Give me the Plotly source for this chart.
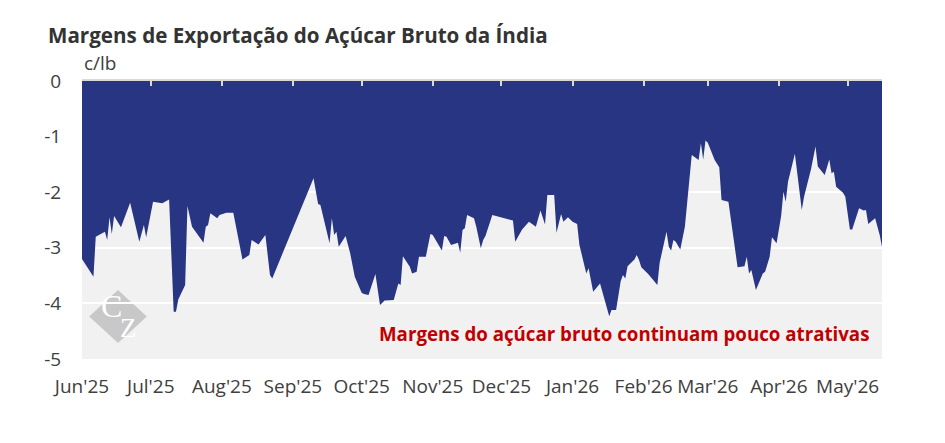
import plotly.graph_objects as go

# --- Data (c/lb) ---
dates = [
    "2025-06-01", "2025-06-06", "2025-06-07", "2025-06-11", "2025-06-12", "2025-06-13",
    "2025-06-14", "2025-06-15", "2025-06-18", "2025-06-22", "2025-06-26", "2025-06-28",
    "2025-06-29", "2025-07-02", "2025-07-06", "2025-07-09", "2025-07-11", "2025-07-12",
    "2025-07-13", "2025-07-16", "2025-07-17", "2025-07-19", "2025-07-24", "2025-07-25",
    "2025-07-26", "2025-07-27", "2025-07-30", "2025-07-31", "2025-08-03", "2025-08-06",
    "2025-08-10", "2025-08-13", "2025-08-14", "2025-08-17", "2025-08-20", "2025-08-22",
    "2025-08-23", "2025-09-10", "2025-09-12", "2025-09-13", "2025-09-17", "2025-09-18",
    "2025-09-19", "2025-09-20", "2025-09-21", "2025-09-24", "2025-09-26", "2025-09-28",
    "2025-10-01", "2025-10-02", "2025-10-04", "2025-10-07", "2025-10-09", "2025-10-11",
    "2025-10-15", "2025-10-17", "2025-10-18", "2025-10-19", "2025-10-22", "2025-10-23",
    "2025-10-25", "2025-10-26", "2025-10-29", "2025-10-31", "2025-11-01", "2025-11-05",
    "2025-11-06", "2025-11-07", "2025-11-09", "2025-11-12", "2025-11-13", "2025-11-14",
    "2025-11-15", "2025-11-16", "2025-11-19", "2025-11-20", "2025-11-22", "2025-11-23",
    "2025-11-24", "2025-11-25", "2025-11-27", "2025-12-06", "2025-12-07", "2025-12-10",
    "2025-12-13", "2025-12-16", "2025-12-18", "2025-12-20", "2025-12-21", "2025-12-24",
    "2025-12-25", "2025-12-27", "2025-12-28", "2025-12-30", "2026-01-01", "2026-01-03",
    "2026-01-04", "2026-01-07", "2026-01-08", "2026-01-10", "2026-01-13", "2026-01-17",
    "2026-01-18", "2026-01-20", "2026-01-22", "2026-01-23", "2026-01-24", "2026-01-25",
    "2026-01-28", "2026-01-29", "2026-01-30", "2026-01-31", "2026-02-03", "2026-02-07",
    "2026-02-08", "2026-02-11", "2026-02-12", "2026-02-13", "2026-02-14", "2026-02-15",
    "2026-02-17", "2026-02-19", "2026-02-20", "2026-02-22", "2026-02-25", "2026-02-26",
    "2026-02-27", "2026-02-28", "2026-03-01", "2026-03-04", "2026-03-06", "2026-03-07",
    "2026-03-10", "2026-03-14", "2026-03-17", "2026-03-18", "2026-03-19", "2026-03-20",
    "2026-03-22", "2026-03-25", "2026-03-26", "2026-03-28", "2026-03-29", "2026-03-31",
    "2026-04-02", "2026-04-03", "2026-04-04", "2026-04-05", "2026-04-08", "2026-04-11",
    "2026-04-12", "2026-04-15", "2026-04-17", "2026-04-18", "2026-04-21", "2026-04-23",
    "2026-04-24", "2026-04-25", "2026-04-26", "2026-04-29", "2026-04-30", "2026-05-02",
    "2026-05-03", "2026-05-06", "2026-05-08", "2026-05-09", "2026-05-10", "2026-05-13",
    "2026-05-15", "2026-05-16",
]
margins = [
    -3.20, -3.52, -2.80, -2.71, -2.86, -2.45,
    -2.75, -2.43, -2.63, -2.19, -2.89, -2.59,
    -2.81, -2.17, -2.20, -2.13, -4.15, -4.15,
    -3.93, -3.67, -2.25, -2.62, -2.91, -2.62,
    -2.59, -2.38, -2.47, -2.41, -2.37, -2.37,
    -3.21, -3.13, -2.86, -2.94, -2.77, -3.49,
    -3.55, -1.75, -2.21, -2.23, -2.92, -2.47,
    -2.77, -2.71, -2.98, -2.79, -3.10, -3.52,
    -3.81, -3.83, -3.85, -3.47, -4.03, -3.95,
    -3.94, -3.64, -3.67, -3.15, -3.34, -3.46,
    -3.43, -3.16, -3.16, -2.75, -2.77, -3.05,
    -2.79, -2.80, -2.95, -2.91, -3.09, -2.68,
    -2.65, -2.41, -2.47, -2.62, -3.01, -2.86,
    -2.79, -2.67, -2.41, -2.51, -2.89, -2.67,
    -2.53, -2.62, -2.33, -2.58, -2.05, -2.05,
    -2.73, -2.39, -2.53, -2.45, -2.53, -2.57,
    -2.95, -3.46, -3.37, -3.79, -3.64, -4.23,
    -4.12, -4.12, -3.60, -3.49, -3.55, -3.33,
    -3.21, -3.13, -3.22, -3.35, -3.47, -3.67,
    -3.27, -2.71, -2.98, -3.05, -2.86, -2.89,
    -3.03, -2.62, -2.17, -1.33, -1.42, -1.12,
    -1.41, -1.07, -1.11, -1.42, -1.55, -2.14,
    -2.17, -3.35, -3.33, -3.16, -3.46, -3.40,
    -3.76, -3.46, -3.43, -3.16, -2.81, -2.92,
    -2.43, -1.99, -2.17, -1.81, -1.31, -2.32,
    -2.08, -1.59, -1.18, -1.54, -1.69, -1.41,
    -1.66, -1.63, -1.90, -2.01, -2.08, -2.67,
    -2.67, -2.29, -2.33, -2.32, -2.57, -2.47,
    -2.77, -2.98,
]

month_ticks = [
    "2025-06-01", "2025-07-01", "2025-08-01", "2025-09-01", "2025-10-01", "2025-11-01",
    "2025-12-01", "2026-01-01", "2026-02-01", "2026-03-01", "2026-04-01", "2026-05-01",
]
month_labels = [
    "Jun'25", "Jul'25", "Aug'25", "Sep'25", "Oct'25", "Nov'25",
    "Dec'25", "Jan'26", "Feb'26", "Mar'26", "Apr'26", "May'26",
]
y_ticks = [0, -1, -2, -3, -4, -5]
y_labels = ["0", "-1", "-2", "-3", "-4", "-5"]
x_range = ["2025-06-01", "2026-05-16"]

BLUE = "#283582"
TEXT = "#404040"

fig = go.Figure()
fig.add_trace(go.Scatter(
    x=dates, y=margins,
    mode="lines", fill="tozeroy",
    line=dict(color=BLUE, width=0),
    fillcolor=BLUE,
    hoverinfo="x+y",
    showlegend=False,
))
# invisible trace so the top (zero-line) axis with ticks gets drawn
fig.add_trace(go.Scatter(
    x=dates, y=margins, xaxis="x2",
    mode="none", hoverinfo="skip", showlegend=False,
))

fig.update_layout(
    width=945, height=443,
    margin=dict(l=82, r=63, t=81, b=84),
    paper_bgcolor="white",
    plot_bgcolor="#f1f1f1",
    font=dict(family="Open Sans", color=TEXT, size=19),
    title=dict(
        text="<b>Margens de Exportação do Açúcar Bruto da Índia</b>",
        x=48 / 945, xanchor="left",
        y=1 - 36 / 443, yanchor="middle",
        font=dict(family="Open Sans", size=20.6, color="#333333"),
    ),
    xaxis=dict(
        type="date", range=x_range,
        tickvals=month_ticks, ticktext=month_labels,
        showgrid=False, zeroline=False, showline=False,
        ticks="outside", ticklen=10, tickcolor="rgba(0,0,0,0)",
        tickfont=dict(size=19, color=TEXT),
    ),
    xaxis2=dict(
        type="date", range=x_range, overlaying="x", side="top",
        tickvals=month_ticks, showticklabels=False,
        ticks="inside", ticklen=5, tickwidth=2, tickcolor="#d9d9d9",
        showline=True, linecolor="#d9d9d9", linewidth=2,
        showgrid=False, zeroline=False,
    ),
    yaxis=dict(
        range=[-5, 0], tickvals=y_ticks, ticktext=y_labels,
        showgrid=True, gridcolor="white", gridwidth=2,
        zeroline=False, showline=False,
        ticks="outside", ticklen=16, tickcolor="rgba(0,0,0,0)",
        tickfont=dict(size=19, color=TEXT),
    ),
    annotations=[
        dict(
            text="c/lb", xref="paper", yref="paper",
            x=0.0, y=(359 - 63) / 278, xanchor="left", yanchor="middle",
            showarrow=False, font=dict(size=19, color=TEXT),
        ),
        dict(
            text="<b>Margens do açúcar bruto continuam pouco atrativas</b>",
            xref="paper", yref="paper",
            x=(871 - 82) / 800, y=(359 - 333) / 278,
            xanchor="right", yanchor="middle",
            showarrow=False, font=dict(size=18.7, color="#c00000"),
        ),
        dict(
            text="C", xref="paper", yref="paper",
            x=0.037, y=0.19, xanchor="center", yanchor="middle",
            showarrow=False,
            font=dict(family="Liberation Serif", size=32, color="white"),
        ),
        dict(
            text="Z", xref="paper", yref="paper",
            x=0.058, y=0.11, xanchor="center", yanchor="middle",
            showarrow=False,
            font=dict(family="Liberation Serif", size=27, color="white"),
        ),
    ],
    shapes=[
        dict(
            type="path", xref="paper", yref="paper", layer="below",
            path="M 0.009 0.153 L 0.045 0.248 L 0.081 0.153 L 0.045 0.058 Z",
            fillcolor="#c8c8c8", line=dict(width=0),
        ),
    ],
)

# drop the browser's default page margin so the figure sits at the window's corner
fig.write_html(
    "out.html",
    config={"displayModeBar": False},
    post_script="document.body.style.margin='0';",
)
